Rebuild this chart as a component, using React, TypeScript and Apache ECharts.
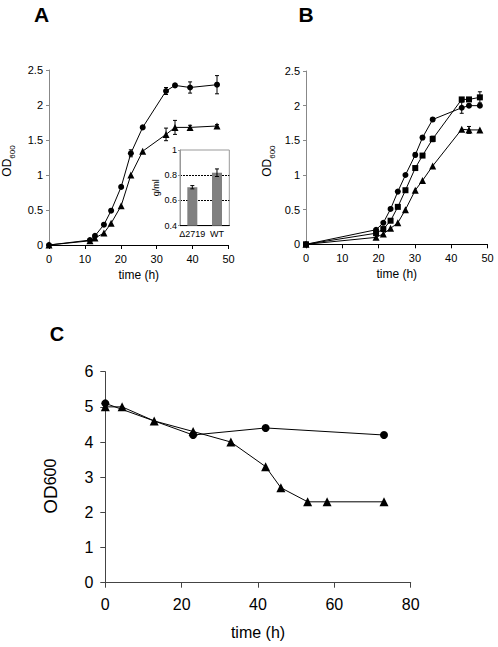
import React, { useEffect, useRef } from "react";
import * as echarts from "echarts";

const FONT = "'Liberation Sans', Arial, sans-serif";

// Panel A
const aTime = [0, 11.4, 12.8, 15.3, 17.3, 20.1, 22.8, 26.1, 32.6, 35.1, 39.3, 46.8];
const aCircle = [0, 0.07, 0.13, 0.29, 0.49, 0.83, 1.31, 1.68, 2.2, 2.28, 2.25, 2.29];
const aCircleErr = [0, 0, 0, 0, 0, 0, 0.05, 0, 0.05, 0.02, 0.08, 0.13];
const aTriangle = [0, 0.06, 0.1, 0.17, 0.31, 0.56, 1.0, 1.34, 1.58, 1.68, 1.68, 1.7];
const aTriangleErr = [0, 0, 0, 0, 0, 0, 0, 0, 0.09, 0.1, 0.03, 0.02];

// Inset
const insetCats = ["Δ2719", "WT"];
const insetVals = [0.705, 0.82];
const insetErr = [0.013, 0.03];

// Panel B
const bTime = [0, 19.3, 21.3, 23.3, 25.3, 27.4, 30.1, 32.1, 34.9, 42.9, 44.9, 47.9];
const bCircle = [0, 0.21, 0.31, 0.51, 0.76, 1.0, 1.29, 1.54, 1.8, 1.97, 2.0, 2.0];
const bCircleErr = [0, 0, 0, 0, 0, 0, 0.03, 0.03, 0.03, 0.08, 0, 0];
const bSquare = [0, 0.16, 0.22, 0.34, 0.54, 0.78, 1.1, 1.28, 1.52, 2.09, 2.09, 2.12];
const bSquareErr = [0, 0, 0, 0, 0, 0, 0, 0, 0.04, 0, 0, 0.08];
const bTriangle = [0, 0.1, 0.15, 0.23, 0.31, 0.5, 0.78, 0.92, 1.13, 1.66, 1.65, 1.65];
const bTriangleErr = [0, 0, 0, 0, 0, 0, 0, 0, 0, 0, 0.05, 0];

// Panel C
const cCircleTime = [0, 23, 42, 73];
const cCircle = [5.1, 4.2, 4.4, 4.2];
const cTriangleTime = [0, 4.4, 12.8, 23, 32.9, 42, 46, 53, 58.1, 73];
const cTriangle = [5.0, 5.0, 4.6, 4.3, 4.0, 3.3, 2.7, 2.3, 2.3, 2.3];

const pairs = (xs: number[], ys: number[]) => xs.map((x, i) => [x, ys[i]]);
const errTriples = (xs: any[], ys: number[], es: number[]) =>
  xs.map((x, i) => [x, ys[i], es[i]]).filter((d) => d[2] > 0);

function errSeries(idx: number, data: any[]) {
  return {
    type: "custom",
    xAxisIndex: idx,
    yAxisIndex: idx,
    z: 1,
    data,
    renderItem: (params: any, api: any) => {
      const x = api.value(0);
      const y = api.value(1);
      const e = api.value(2);
      const top = api.coord([x, y + e]);
      const bot = api.coord([x, y - e]);
      const w = 2;
      const st = { stroke: "#000", lineWidth: 1 };
      return {
        type: "group",
        children: [
          { type: "line", shape: { x1: top[0], y1: top[1], x2: bot[0], y2: bot[1] }, style: st },
          { type: "line", shape: { x1: top[0] - w, y1: top[1], x2: top[0] + w, y2: top[1] }, style: st },
          { type: "line", shape: { x1: bot[0] - w, y1: bot[1], x2: bot[0] + w, y2: bot[1] }, style: st },
        ],
      };
    },
  };
}

function lineSeries(idx: number, data: any[], symbol: string, size: number) {
  return {
    type: "line",
    xAxisIndex: idx,
    yAxisIndex: idx,
    data,
    symbol,
    symbolSize: size,
    showSymbol: true,
    z: 3,
    lineStyle: { color: "#000", width: 1 },
    itemStyle: { color: "#000", borderWidth: 0 },
  };
}

function valueX(gridIndex: number, max: number, interval: number, fs: number, margin: number, tickLen: number, color: string, nameSize: number, nameGap: number) {
  return {
    type: "value",
    gridIndex,
    min: 0,
    max,
    interval,
    name: "time (h)",
    nameLocation: "middle",
    nameGap,
    nameTextStyle: { color: "#000", fontSize: nameSize, fontFamily: FONT, fontWeight: "normal" },
    axisLine: { show: true, lineStyle: { color, width: 1 } },
    axisTick: { show: true, inside: false, length: tickLen, lineStyle: { color } },
    axisLabel: { color: "#000", fontSize: fs, fontFamily: FONT, margin },
    splitLine: { show: false },
  };
}

function valueY(gridIndex: number, min: number, max: number, interval: number, fs: number, margin: number, tickLen: number, color: string) {
  return {
    type: "value",
    gridIndex,
    min,
    max,
    interval,
    axisLine: { show: true, onZero: false, lineStyle: { color, width: 1 } },
    axisTick: { show: true, inside: false, length: tickLen, lineStyle: { color } },
    axisLabel: { color: "#000", fontSize: fs, fontFamily: FONT, margin, showMinLabel: true, showMaxLabel: true },
    splitLine: { show: false },
  };
}

function odName(big: number, small: number, nameGap: number, shiftDown: number, sub: boolean) {
  return {
    name: "{a|OD}{b|600}",
    nameLocation: "middle",
    nameRotate: 90,
    nameGap,
    nameTextStyle: {
      color: "#000",
      fontFamily: FONT,
      fontWeight: "normal",
      padding: [0, shiftDown * 2, 0, 0],
      rich: {
        a: { fontSize: big, fontFamily: FONT, color: "#000", lineHeight: big + 6, verticalAlign: "middle" },
        b: { fontSize: small, fontFamily: FONT, color: "#000", lineHeight: big + 6, verticalAlign: sub ? "bottom" : "middle" },
      },
    },
  };
}

function letter(text: string, x: number, y: number, fontSize: number) {
  return {
    type: "text",
    x,
    y,
    z: 10,
    style: {
      text,
      fontSize,
      fontWeight: "bold",
      fontFamily: FONT,
      fill: "#000",
      align: "center",
      verticalAlign: "middle",
    },
  };
}

export default function App() {
  const ref = useRef<HTMLDivElement>(null);
  useEffect(() => {
    if (!ref.current) return;
    const chart = echarts.init(ref.current, undefined, { renderer: "svg" });
    const option: any = {
      animation: false,
      backgroundColor: "#fff",
      grid: [
        { left: 48.5, top: 70, width: 180, height: 175 },
        { left: 180, top: 150, width: 49.3, height: 75.7, show: true, borderColor: "#999", borderWidth: 1, backgroundColor: "#fff", z: 5 },
        { left: 306, top: 71, width: 181.5, height: 173.3 },
        { left: 105.3, top: 371.7, width: 305.4, height: 211 },
      ],
      xAxis: [
        valueX(0, 50, 10, 11, 8, 4, "#000", 12, 24),
        {
          type: "category",
          gridIndex: 1,
          data: insetCats,
          axisLine: { show: true, lineStyle: { color: "#000" } },
          axisTick: { show: false },
          axisLabel: { color: "#000", fontSize: 9, fontFamily: FONT, margin: 4, interval: 0, hideOverlap: false },
          z: 6,
        },
        valueX(2, 50, 10, 11, 8, 4, "#000", 12, 24),
        valueX(3, 80, 20, 16, 14, 5, "#444", 16, 42),
      ],
      yAxis: [
        { ...valueY(0, 0, 2.5, 0.5, 11, 6, 3, "#888"), ...odName(12, 8, 33, 3.5, true) },
        {
          ...valueY(1, 0.4, 1, 0.2, 9, 3, 2, "#999"),
          z: 6,
          name: "g/ml",
          nameLocation: "middle",
          nameRotate: 90,
          nameGap: 10,
          nameTextStyle: { color: "#000", fontSize: 9, fontFamily: FONT, fontWeight: "normal" },
        },
        { ...valueY(2, 0, 2.5, 0.5, 11, 6, 3, "#888"), ...odName(12, 8, 30, 3.5, true) },
        { ...valueY(3, 0, 6, 1, 16, 12, 5, "#444"), ...odName(19, 16, 42, 9, false) },
      ],
      series: [
        lineSeries(0, pairs(aTime, aCircle), "circle", 6),
        lineSeries(0, pairs(aTime, aTriangle), "triangle", 7),
        errSeries(0, errTriples(aTime, aCircle, aCircleErr)),
        errSeries(0, errTriples(aTime, aTriangle, aTriangleErr)),
        {
          type: "bar",
          xAxisIndex: 1,
          yAxisIndex: 1,
          data: insetVals,
          barWidth: 10,
          z: 6,
          itemStyle: { color: "#808080" },
          markLine: {
            silent: true,
            symbol: "none",
            label: { show: false },
            lineStyle: { color: "#000", type: [2, 1], width: 1 },
            data: [{ yAxis: 0.6 }, { yAxis: 0.8 }],
          },
        },
        { ...errSeries(1, insetCats.map((c, i) => [i, insetVals[i], insetErr[i]])), z: 7 },
        lineSeries(2, pairs(bTime, bCircle), "circle", 6),
        lineSeries(2, pairs(bTime, bSquare), "rect", 6),
        lineSeries(2, pairs(bTime, bTriangle), "triangle", 7),
        errSeries(2, errTriples(bTime, bCircle, bCircleErr)),
        errSeries(2, errTriples(bTime, bSquare, bSquareErr)),
        errSeries(2, errTriples(bTime, bTriangle, bTriangleErr)),
        lineSeries(3, pairs(cCircleTime, cCircle), "circle", 8),
        lineSeries(3, pairs(cTriangleTime, cTriangle), "triangle", 9),
      ],
      graphic: [
        letter("A", 41.5, 14.5, 21),
        letter("B", 306, 14.5, 21),
        letter("C", 57, 333.7, 20),
      ],
    };
    chart.setOption(option);
    return () => chart.dispose();
  }, []);
  return (
    <div
      ref={ref}
      style={{ position: "absolute", left: 0, top: 0, width: 498, height: 647, background: "#fff" }}
    />
  );
}
